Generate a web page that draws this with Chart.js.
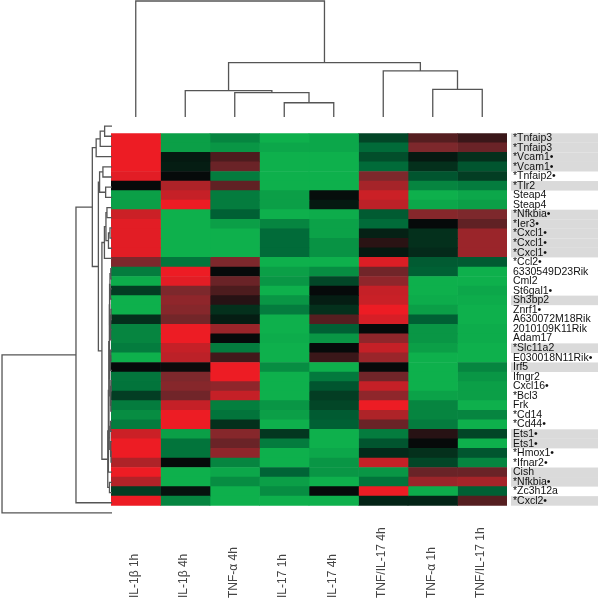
<!DOCTYPE html>
<html>
<head>
<meta charset="utf-8">
<script src="https://cdn.jsdelivr.net/npm/chart.js@4"></script>
<style>
body { margin: 0; background: #fff; }
#wrap { position: relative; width: 600px; height: 602px; overflow: hidden; }
canvas { position: absolute; }
</style>
</head>
<body>
<div id="wrap">
<canvas id="heat" width="489" height="397" style="left:111px;top:121px"></canvas>
<canvas id="cols" width="396" height="84" style="left:111px;top:518px"></canvas>
<canvas id="topTree" width="396" height="121" style="left:111px;top:0px"></canvas>
<canvas id="rowTree" width="112" height="407" style="left:0px;top:116px"></canvas>
</div>
<script>
// columns (conditions), left to right
const colLabels = ['IL-1β 1h', 'IL-1β 4h', 'TNF-α 4h', 'IL-17 1h', 'IL-17 4h', 'TNF/IL-17 4h', 'TNF-α 1h', 'TNF/IL-17 1h'];

// genes, top to bottom
const rowLabels = ['*Tnfaip3', '*Tnfaip3', '*Vcam1•', '*Vcam1•', '*Tnfaip2•', '*Tlr2', 'Steap4', 'Steap4',
  '*Nfkbia•', '*Ier3•', '*Cxcl1•', '*Cxcl1•', '*Cxcl1•', '*Ccl2•', '6330549D23Rik', 'Cml2', 'St6gal1•',
  'Sh3bp2', 'Znrf1•', 'A630072M18Rik', '2010109K11Rik', 'Adam17', '*Slc11a2', 'E030018N11Rik•', 'Irf5',
  'Ifngr2', 'Cxcl16•', '*Bcl3', 'Frk', '*Cd14', '*Cd44•', 'Ets1•', 'Ets1•', '*Hmox1•', '*Ifnar2•',
  'Cish', '*Nfkbia•', '*Zc3h12a', '*Cxcl2•'];

// rows whose label is shaded
const shadedRows = [0, 1, 2, 3, 5, 8, 9, 10, 11, 12, 17, 22, 24, 31, 32, 35, 36, 38];

// relative expression per column (+1 red = up, -1 green = down, 0 black)
const il1b1h = [1, 1, 1, 1, 0.95, 0, -0.88, -0.88, 0.85, 0.95, 0.95, 0.95, 0.95, 0.5, -0.64, -0.97, -0.27, -1, -1, -0.2,
  -0.7, -0.7, -0.64, -1, 0, -0.6, -0.58, -0.27, -0.64, -0.76, -0.64, 0.85, 1, 1, 0.72, 1, 0.74, -0.27, 1];
const il1b4h = [-0.88, -0.88, -0.08, -0.1, 0, 0.72, 0.82, 1, -1, -1, -1, -1, -1, -0.6, 1, 0.95, 0.5, 0.58, 0.54, 0.46,
  1, 1, 0.82, 0.78, 0.02, 0.5, 0.54, 0.45, 0.82, 1, 1, -0.88, -0.58, -0.58, 0, -1, -1, -0.04, -0.7];
const tnf4h = [-0.7, -0.82, 0.3, 0.42, -0.64, 0.38, -0.64, -0.64, -0.46, -0.88, -1, -1, -1, 0.5, 0, 0.42, 0.3, 0.14, -0.2, -0.1,
  0.63, 0, -0.64, 0.25, 1, 1, 0.58, 0.82, -0.66, -0.58, -0.2, 0.54, 0.42, 0.58, -0.7, -0.94, -0.76, -1, -1];
const il17_1h = [-1, -0.94, -1, -1, -1, -1, -0.88, -0.88, -1, -0.7, -0.52, -0.52, -0.52, -1, -0.88, -0.82, -1, -0.82, -0.64, -1,
  -1, -0.97, -1, -1, -0.76, -1, -1, -1, -0.82, -0.88, -1, -0.24, -0.64, -1, -1, -0.48, -0.88, -0.76, -1];
const il17_4h = [-0.94, -0.94, -1, -1, -1, -1, -0.02, -0.08, -0.97, -0.9, -0.9, -0.8, -0.8, -1, -0.76, -0.32, 0, -0.1, -0.2, 0.33,
  -0.46, -0.82, 0, 0.22, -1, -0.62, -0.4, -0.27, -0.32, -0.43, -0.46, -1, -1, -0.94, -0.82, -0.82, -1, 0, -1];
const tnfIl17_4h = [-0.32, -0.52, -0.36, -0.52, 0.5, 0.68, 0.85, 0.78, -0.43, -0.52, -0.12, 0.15, -0.08, 0.92, 0.45, 0.58, 0.82, 0.84, 1, 0.9,
  0, 0.58, 0.82, 0.63, 0, 0.45, 0.82, 0.58, 1, 0.72, 0.42, -0.64, -0.4, -0.17, 0.82, -0.82, -0.58, 1, -0.14];
const tnf1h = [0.33, 0.5, -0.08, -0.2, -0.4, -0.7, -1, -0.94, 0.54, 0, -0.2, -0.2, -0.17, -0.43, -0.46, -1, -1, -0.97, -0.88, -0.46,
  -0.82, -0.82, -0.88, -1, -1, -1, -1, -0.9, -0.7, -0.7, -0.64, 0.14, 0, -0.2, -0.32, 0.42, 0.63, -0.97, -0.14];
const tnfIl17_1h = [0.22, 0.42, -0.2, -0.4, -0.27, -0.64, -0.94, -0.88, 0.5, 0.38, 0.63, 0.63, 0.63, -0.43, -1, -1, -0.94, -0.97, -1, -1,
  -0.97, -0.97, -1, -1, -0.7, -0.82, -0.88, -0.88, -1, -0.7, -1, -0.32, -1, -0.4, -0.7, 0.42, 0.68, -0.46, 0.33];

// column tree: [nodeA, nodeB, height]; leaves 0..7, merges numbered from 8
const colMerges = [[3, 4, 0.123], [2, 8, 0.21], [1, 9, 0.227], [6, 7, 0.239], [5, 11, 0.397], [10, 12, 0.468], [0, 13, 1.0]];

// row tree: leaves 0..38, merges numbered from 39
const rowMerges = [
  [0, 1, 7.3], [39, 2, 11.7], [40, 3, 15.7],
  [4, 5, 9], [6, 7, 6.3], [42, 43, 12.3],
  [8, 9, 5], [10, 11, 2], [46, 12, 3.5], [45, 47, 6], [48, 13, 7.5],
  [14, 15, 1.2], [16, 17, 1.5], [50, 51, 2], [18, 19, 1], [20, 21, 1.4], [53, 54, 1.8], [52, 55, 2.4],
  [22, 23, 1.3], [57, 24, 1.7], [25, 26, 1], [27, 28, 1.2], [59, 60, 1.6], [58, 61, 2.2],
  [29, 30, 1.5], [32, 33, 1], [31, 64, 1.6], [63, 65, 2.2],
  [56, 62, 2.8], [67, 66, 3.2], [68, 34, 3.6], [35, 36, 2.5], [69, 70, 4.2],
  [49, 71, 10], [44, 72, 13.5], [41, 73, 19.5], [74, 37, 35.7], [75, 38, 109]
];

const columns = [il1b1h, il1b4h, tnf4h, il17_1h, il17_4h, tnfIl17_4h, tnf1h, tnfIl17_1h];
const fontFamily = '"Liberation Sans", Arial, sans-serif';

//black -> dark -> bright, red for up and green for down
function cellColor(v) {
    const black = [6, 10, 10];
    const mid = v >= 0 ? [125, 40, 44] : [0, 104, 56];
    const hi = v >= 0 ? [237, 28, 36] : [14, 176, 76];
    const t = Math.min(1, Math.abs(v));
    let a, b, f;
    if (t <= 0.5) { a = black; b = mid; f = t / 0.5; }
    else { a = mid; b = hi; f = (t - 0.5) / 0.5; }
    return 'rgb(' + a.map((c, k) => Math.round(c + (b[k] - c) * f)).join(',') + ')';
}

//turn a merge list into elbow segments [height, position]
function treeSegments(leafCount, merges) {
    const pos = [], h = [];
    for (let i = 0; i < leafCount; i++) { pos.push(i + 0.5); h.push(0); }
    return merges.map(([a, b, ht]) => {
        const seg = [[h[a], pos[a]], [ht, pos[a]], [ht, pos[b]], [h[b], pos[b]]];
        pos.push((pos[a] + pos[b]) / 2);
        h.push(ht);
        return seg;
    });
}

const noPlugins = { legend: { display: false }, tooltip: { enabled: false } };

// grey band behind some gene names
const bandPlugin = {
    id: 'bands',
    beforeDraw(chart) {
        const y = chart.scales.y;
        const ctx = chart.ctx;
        const left = chart.chartArea.right + 4;
        ctx.save();
        ctx.fillStyle = '#dadada';
        shadedRows.forEach(i => {
            const top = y.getPixelForValue(i), bottom = y.getPixelForValue(i + 1);
            ctx.fillRect(left, top, chart.width - left - 2, bottom - top);
        });
        ctx.restore();
    }
};

new Chart(document.getElementById('heat'), {
    type: 'bar',
    data: {
        labels: colLabels,
        datasets: columns.map((vals, c) => ({
            data: vals.map((v, r) => ({ x: colLabels[c], y: [r, r + 1], v: v })),
            backgroundColor: ctx => cellColor(ctx.raw.v),
            borderWidth: 0,
            grouped: false,
            barPercentage: 1,
            categoryPercentage: 1
        }))
    },
    options: {
        responsive: false,
        animation: false,
        events: [],
        layout: { padding: 0 },
        plugins: noPlugins,
        scales: {
            x: { type: 'category', offset: true, display: false },
            y: {
                type: 'linear', position: 'right', min: 0, max: rowLabels.length, reverse: true,
                grid: { display: false, drawTicks: false },
                border: { display: false },
                afterBuildTicks: s => { s.ticks = rowLabels.map((l, i) => ({ value: i + 0.5 })); },
                afterFit: s => { s.width = 93; },
                ticks: {
                    autoSkip: false, padding: 6, color: '#111',
                    font: { size: 10.5, family: fontFamily },
                    callback: (val, i) => rowLabels[i]
                }
            }
        }
    },
    plugins: [bandPlugin]
});

// condition names under the heat map, read upwards
new Chart(document.getElementById('cols'), {
    type: 'bar',
    data: { labels: colLabels, datasets: [] },
    options: {
        responsive: false,
        animation: false,
        events: [],
        layout: { padding: 0 },
        plugins: noPlugins,
        scales: {
            x: {
                position: 'top', offset: true,
                grid: { display: false, drawTicks: false },
                border: { display: false },
                afterFit: s => { s.height = 80; },
                ticks: {
                    autoSkip: false, minRotation: 90, maxRotation: 90, padding: 0, labelOffset: 13, color: '#444',
                    font: { size: 12, family: fontFamily }
                }
            },
            y: { display: false }
        }
    }
});

function lineSet(points) {
    return {
        data: points,
        borderColor: '#555',
        borderWidth: 1.3,
        pointRadius: 0,
        fill: false,
        tension: 0,
        clip: false
    };
}

new Chart(document.getElementById('topTree'), {
    type: 'line',
    data: { datasets: treeSegments(colLabels.length, colMerges).map(seg => lineSet(seg.map(([h, p]) => ({ x: p, y: h })))) },
    options: {
        responsive: false,
        animation: false,
        events: [],
        layout: { padding: { top: 1, bottom: 4, left: 0, right: 0 } },
        plugins: noPlugins,
        scales: {
            x: { type: 'linear', min: 0, max: colLabels.length, display: false },
            y: { type: 'linear', min: 0, max: 1, display: false }
        }
    }
});

new Chart(document.getElementById('rowTree'), {
    type: 'line',
    data: { datasets: treeSegments(rowLabels.length, rowMerges).map(seg => lineSet(seg.map(([h, p]) => ({ x: h, y: p })))) },
    options: {
        responsive: false,
        animation: false,
        events: [],
        layout: { padding: { top: 5, bottom: 5, left: 0, right: 0 } },
        plugins: noPlugins,
        scales: {
            x: { type: 'linear', min: 0, max: 111, reverse: true, display: false },
            y: { type: 'linear', min: 0, max: rowLabels.length, reverse: true, display: false }
        }
    }
});
</script>
</body>
</html>
